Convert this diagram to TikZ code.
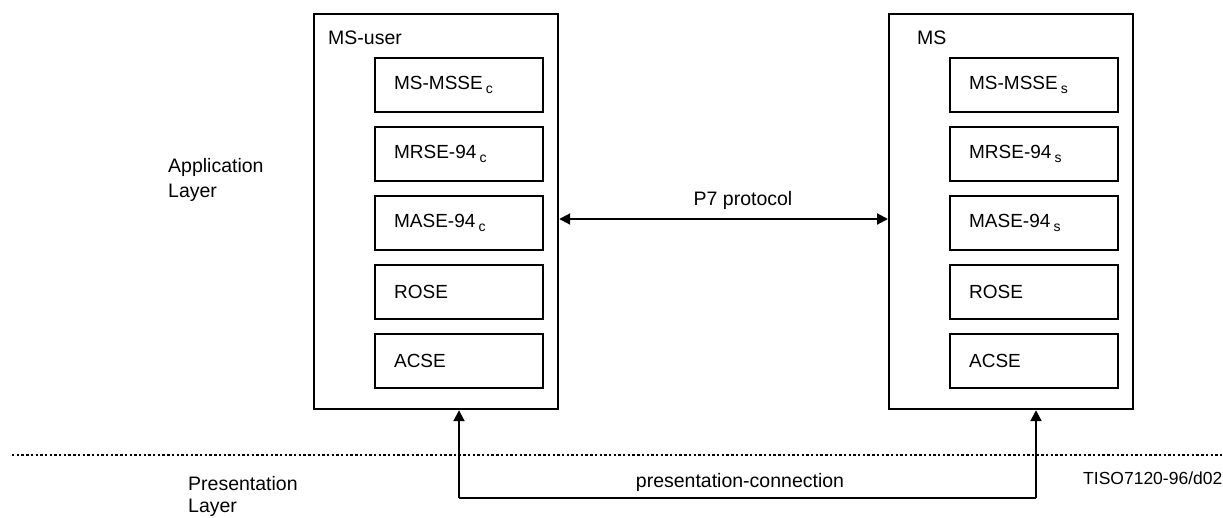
\documentclass[tikz,border=0pt]{standalone}
\usepackage{fontspec}
\setmainfont{Liberation Sans}
\usetikzlibrary{arrows.meta}
\newcommand{\sbs}[1]{\,\raisebox{-0.4ex}{\fontsize{14}{14}\selectfont #1}}
\tikzset{
  txt/.style={font=\fontsize{19.5}{23}\selectfont, inner sep=0pt},
  outerbox/.style={draw, line width=2.2pt, minimum width=244pt, minimum height=395pt, anchor=north west, inner sep=0pt},
  layerbox/.style={draw, line width=2.2pt, minimum width=168pt, minimum height=54pt, inner xsep=19pt, inner ysep=0pt,
    text width=130pt, align=left, anchor=north west, font=\fontsize{19}{22}\selectfont},
  tip/.tip={Triangle[length=11pt,width=11pt]},
  conn/.style={line width=2pt, -tip},
  sep/.style={line width=2.4pt, dash pattern=on 2.4pt off 2.3pt},
}
\begin{document}
\begin{tikzpicture}[x=1pt,y=-1pt]
\useasboundingbox (0,0) rectangle (1223,517);

% client side
\node[outerbox] (user) at (313,13) {};
\node[txt, anchor=base west] (userlbl) at (328,44) {MS-user};
\node[layerbox] (u1) at (374,57) {MS-MSSE\sbs{c}};
\node[layerbox] (u2) at (374,126) {MRSE-94\sbs{c}};
\node[layerbox] (u3) at (374,195) {MASE-94\sbs{c}};
\node[layerbox] (u4) at (374,264) {ROSE};
\node[layerbox] (u5) at (374,333) {ACSE};

% server side
\node[outerbox] (ms) at (888,13) {};
\node[txt, anchor=base west] (mslbl) at (917,44) {MS};
\node[layerbox] (s1) at (949,57) {MS-MSSE\sbs{s}};
\node[layerbox] (s2) at (949,126) {MRSE-94\sbs{s}};
\node[layerbox] (s3) at (949,195) {MASE-94\sbs{s}};
\node[layerbox] (s4) at (949,264) {ROSE};
\node[layerbox] (s5) at (949,333) {ACSE};

% layer names (base anchor = baseline of the last line)
\node[txt, anchor=base west, align=left, font=\fontsize{19.5}{25}\selectfont] (app) at (168,197) {Application\\Layer};
\node[txt, anchor=base west, align=left, font=\fontsize{19.5}{22}\selectfont] (pres) at (188,512) {Presentation\\Layer};

% P7 protocol between the two stacks
\draw[line width=2pt, tip-tip] (user.east |- 0,219) -- (ms.west |- 0,219);
\node[txt] (p7) at (743,200) {P7 protocol};

% boundary between the layers
\coordinate (sepL) at (12,455);
\coordinate (sepR) at (1223,455);
\draw[sep] (sepL) -- (sepR);

% presentation-connection
\coordinate (pl) at (459,498);
\coordinate (pr) at (1036,498);
\draw[line width=2pt] (pl) -- (pr);
\draw[conn] (pl) -- (pl |- user.south);
\draw[conn] (pr) -- (pr |- ms.south);
\node[txt] (pc) at (740,482) {presentation-connection};
\node[txt, anchor=base west, font=\fontsize{17.5}{20}\selectfont] (ref) at (1083,484) {TISO7120-96/d02};
\end{tikzpicture}
\end{document}
